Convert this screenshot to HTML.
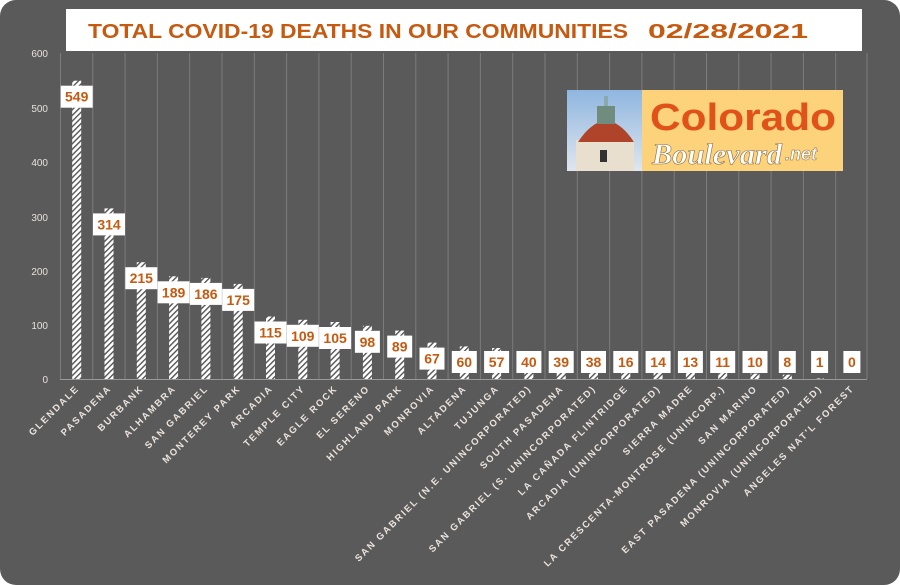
<!DOCTYPE html>
<html><head><meta charset="utf-8"><style>
html,body{margin:0;padding:0;background:#fff;}
svg{display:block;}
</style></head><body>
<svg width="900" height="585" viewBox="0 0 900 585" xmlns="http://www.w3.org/2000/svg" font-family="Liberation Sans, sans-serif">
<defs>
<pattern id="h" width="4" height="4" patternUnits="userSpaceOnUse" patternTransform="rotate(45)">
<rect width="4" height="4" fill="#fff"/><rect width="1.4" height="4" fill="#555"/>
</pattern>
<linearGradient id="sky" x1="0" y1="0" x2="0" y2="1"><stop offset="0" stop-color="#8fb6e0"/><stop offset="1" stop-color="#dfe6ee"/></linearGradient>
</defs>
<rect x="0" y="0" width="900" height="585" rx="16" fill="#5a5a5a"/>
<g stroke="#7c7c7c" stroke-width="1">
<line x1="60.5" y1="53" x2="60.5" y2="379"/>
<line x1="92.8" y1="53" x2="92.8" y2="379"/><line x1="125.1" y1="53" x2="125.1" y2="379"/><line x1="157.4" y1="53" x2="157.4" y2="379"/><line x1="189.7" y1="53" x2="189.7" y2="379"/><line x1="222" y1="53" x2="222" y2="379"/><line x1="254.3" y1="53" x2="254.3" y2="379"/><line x1="286.6" y1="53" x2="286.6" y2="379"/><line x1="318.9" y1="53" x2="318.9" y2="379"/><line x1="351.2" y1="53" x2="351.2" y2="379"/><line x1="383.5" y1="53" x2="383.5" y2="379"/><line x1="415.8" y1="53" x2="415.8" y2="379"/><line x1="448.1" y1="53" x2="448.1" y2="379"/><line x1="480.4" y1="53" x2="480.4" y2="379"/><line x1="512.7" y1="53" x2="512.7" y2="379"/><line x1="545" y1="53" x2="545" y2="379"/><line x1="577.3" y1="53" x2="577.3" y2="379"/><line x1="609.6" y1="53" x2="609.6" y2="379"/><line x1="641.9" y1="53" x2="641.9" y2="379"/><line x1="674.2" y1="53" x2="674.2" y2="379"/><line x1="706.5" y1="53" x2="706.5" y2="379"/><line x1="738.8" y1="53" x2="738.8" y2="379"/><line x1="771.1" y1="53" x2="771.1" y2="379"/><line x1="803.4" y1="53" x2="803.4" y2="379"/><line x1="835.7" y1="53" x2="835.7" y2="379"/><line x1="867" y1="53" x2="867" y2="379"/>
</g>
<line x1="60" y1="379.5" x2="867" y2="379.5" stroke="#9a9a9a" stroke-width="1"/>
<g fill="#e6e0dc" font-size="10" text-anchor="end">
<text x="48" y="57">600</text><text x="48" y="112">500</text><text x="48" y="166">400</text><text x="48" y="221">300</text><text x="48" y="275">200</text><text x="48" y="329">100</text><text x="48" y="383">0</text>
</g>
<rect x="66" y="9" width="796" height="42" fill="#fff"/>
<text x="88" y="38" font-size="20" font-weight="bold" fill="#c55a11" textLength="540" lengthAdjust="spacingAndGlyphs">TOTAL COVID-19 DEATHS IN OUR COMMUNITIES</text>
<text x="648" y="38" font-size="20" font-weight="bold" fill="#c55a11" textLength="160" lengthAdjust="spacingAndGlyphs">02/28/2021</text>

<g fill="url(#h)">
<rect x="72.2" y="80.7" width="9" height="298.3"/>
<rect x="104.5" y="208.4" width="9" height="170.6"/>
<rect x="136.8" y="262.2" width="9" height="116.8"/>
<rect x="169.1" y="276.3" width="9" height="102.7"/>
<rect x="201.4" y="277.9" width="9" height="101.1"/>
<rect x="233.7" y="283.9" width="9" height="95.1"/>
<rect x="266" y="316.5" width="9" height="62.5"/>
<rect x="298.3" y="319.8" width="9" height="59.2"/>
<rect x="330.6" y="322" width="9" height="57"/>
<rect x="362.9" y="325.8" width="9" height="53.2"/>
<rect x="395.2" y="330.6" width="9" height="48.4"/>
<rect x="427.5" y="342.6" width="9" height="36.4"/>
<rect x="459.8" y="346.4" width="9" height="32.6"/>
<rect x="492.1" y="348" width="9" height="31"/>
<rect x="524.4" y="357.3" width="9" height="21.7"/>
<rect x="556.7" y="357.8" width="9" height="21.2"/>
<rect x="589" y="358.4" width="9" height="20.6"/>
<rect x="621.3" y="370.3" width="9" height="8.7"/>
<rect x="653.6" y="371.4" width="9" height="7.6"/>
<rect x="685.9" y="371.9" width="9" height="7.1"/>
<rect x="718.2" y="373" width="9" height="6"/>
<rect x="750.5" y="373.6" width="9" height="5.4"/>
<rect x="782.8" y="374.7" width="9" height="4.3"/>
<rect x="815.1" y="378.5" width="9" height="0.5"/>
</g>

<g fill="#fff">
<rect x="60.7" y="85.7" width="32" height="22"/>
<rect x="93" y="213.4" width="32" height="22"/>
<rect x="125.3" y="267.2" width="32" height="22"/>
<rect x="157.6" y="281.3" width="32" height="22"/>
<rect x="189.9" y="282.9" width="32" height="22"/>
<rect x="222.2" y="288.9" width="32" height="22"/>
<rect x="254.5" y="321.5" width="32" height="22"/>
<rect x="286.8" y="324.8" width="32" height="22"/>
<rect x="319.1" y="327" width="32" height="22"/>
<rect x="354.9" y="330.8" width="25" height="22"/>
<rect x="387.2" y="335.6" width="25" height="22"/>
<rect x="419.5" y="347.6" width="25" height="22"/>
<rect x="451.8" y="351" width="25" height="22"/>
<rect x="484.1" y="351" width="25" height="22"/>
<rect x="516.4" y="351" width="25" height="22"/>
<rect x="548.7" y="351" width="25" height="22"/>
<rect x="581" y="351" width="25" height="22"/>
<rect x="613.3" y="351" width="25" height="22"/>
<rect x="645.6" y="351" width="25" height="22"/>
<rect x="677.9" y="351" width="25" height="22"/>
<rect x="710.2" y="351" width="25" height="22"/>
<rect x="742.5" y="351" width="25" height="22"/>
<rect x="778.8" y="351" width="17" height="22"/>
<rect x="811.1" y="351" width="17" height="22"/>
<rect x="843.4" y="351" width="17" height="22"/>
</g>
<g fill="#c55a11" font-size="14" font-weight="bold" text-anchor="middle">
<text x="76.7" y="101.7">549</text>
<text x="109" y="229.4">314</text>
<text x="141.3" y="283.2">215</text>
<text x="173.6" y="297.3">189</text>
<text x="205.9" y="298.9">186</text>
<text x="238.2" y="304.9">175</text>
<text x="270.5" y="337.5">115</text>
<text x="302.8" y="340.8">109</text>
<text x="335.1" y="343">105</text>
<text x="367.4" y="346.8">98</text>
<text x="399.7" y="351.6">89</text>
<text x="432" y="363.6">67</text>
<text x="464.3" y="367">60</text>
<text x="496.6" y="367">57</text>
<text x="528.9" y="367">40</text>
<text x="561.2" y="367">39</text>
<text x="593.5" y="367">38</text>
<text x="625.8" y="367">16</text>
<text x="658.1" y="367">14</text>
<text x="690.4" y="367">13</text>
<text x="722.7" y="367">11</text>
<text x="755" y="367">10</text>
<text x="787.3" y="367">8</text>
<text x="819.6" y="367">1</text>
<text x="851.9" y="367">0</text>
</g>

<g fill="#ebe3de" font-size="9.5" font-weight="bold" letter-spacing="1.8" text-anchor="end">
<text transform="translate(79.7,389) rotate(-45)">GLENDALE</text>
<text transform="translate(112,389) rotate(-45)">PASADENA</text>
<text transform="translate(144.3,389) rotate(-45)">BURBANK</text>
<text transform="translate(176.6,389) rotate(-45)">ALHAMBRA</text>
<text transform="translate(208.9,389) rotate(-45)">SAN GABRIEL</text>
<text transform="translate(241.2,389) rotate(-45)">MONTEREY PARK</text>
<text transform="translate(273.5,389) rotate(-45)">ARCADIA</text>
<text transform="translate(305.8,389) rotate(-45)">TEMPLE CITY</text>
<text transform="translate(338.1,389) rotate(-45)">EAGLE ROCK</text>
<text transform="translate(370.4,389) rotate(-45)">EL SERENO</text>
<text transform="translate(402.7,389) rotate(-45)">HIGHLAND PARK</text>
<text transform="translate(435,389) rotate(-45)">MONROVIA</text>
<text transform="translate(467.3,389) rotate(-45)">ALTADENA</text>
<text transform="translate(499.6,389) rotate(-45)">TUJUNGA</text>
<text transform="translate(531.9,389) rotate(-45)">SAN GABRIEL (N.E. UNINCORPORATED)</text>
<text transform="translate(564.2,389) rotate(-45)">SOUTH PASADENA</text>
<text transform="translate(596.5,389) rotate(-45)">SAN GABRIEL (S. UNINCORPORATED)</text>
<text transform="translate(628.8,389) rotate(-45)">LA CAÑADA FLINTRIDGE</text>
<text transform="translate(661.1,389) rotate(-45)">ARCADIA (UNINCORPORATED)</text>
<text transform="translate(693.4,389) rotate(-45)">SIERRA MADRE</text>
<text transform="translate(725.7,389) rotate(-45)">LA CRESCENTA-MONTROSE (UNINCORP.)</text>
<text transform="translate(758,389) rotate(-45)">SAN MARINO</text>
<text transform="translate(790.3,389) rotate(-45)">EAST PASADENA (UNINCORPORATED)</text>
<text transform="translate(822.6,389) rotate(-45)">MONROVIA (UNINCORPORATED)</text>
<text transform="translate(854.9,389) rotate(-45)">ANGELES NAT'L FOREST</text>
</g>

<rect x="567" y="90" width="76" height="81" fill="url(#sky)"/>
<rect x="576" y="140" width="58" height="31" fill="#e9dfcf"/>
<path d="M578 142 Q606 100 634 142 Z" fill="#b0442a"/>
<rect x="597" y="106" width="18" height="18" fill="#6f8c7e"/>
<rect x="604" y="96" width="4" height="10" fill="#8aa"/>
<rect x="600" y="150" width="7" height="12" fill="#333"/>
<rect x="642" y="90" width="201" height="81" fill="#fcd27b"/>
<text x="650" y="130" font-size="38" font-weight="bold" fill="#e1521b" textLength="186" lengthAdjust="spacingAndGlyphs">Colorado</text>
<text x="652" y="164" font-size="30" font-style="italic" font-family="Liberation Serif, serif" font-weight="bold" fill="#fff" stroke="#8a6a40" stroke-width="0.6" textLength="130" lengthAdjust="spacingAndGlyphs">Boulevard</text>
<text x="785" y="160" font-size="18" font-style="italic" font-weight="bold" fill="#fff" stroke="#8a6a40" stroke-width="0.5">.net</text>
</svg>
</body></html>
